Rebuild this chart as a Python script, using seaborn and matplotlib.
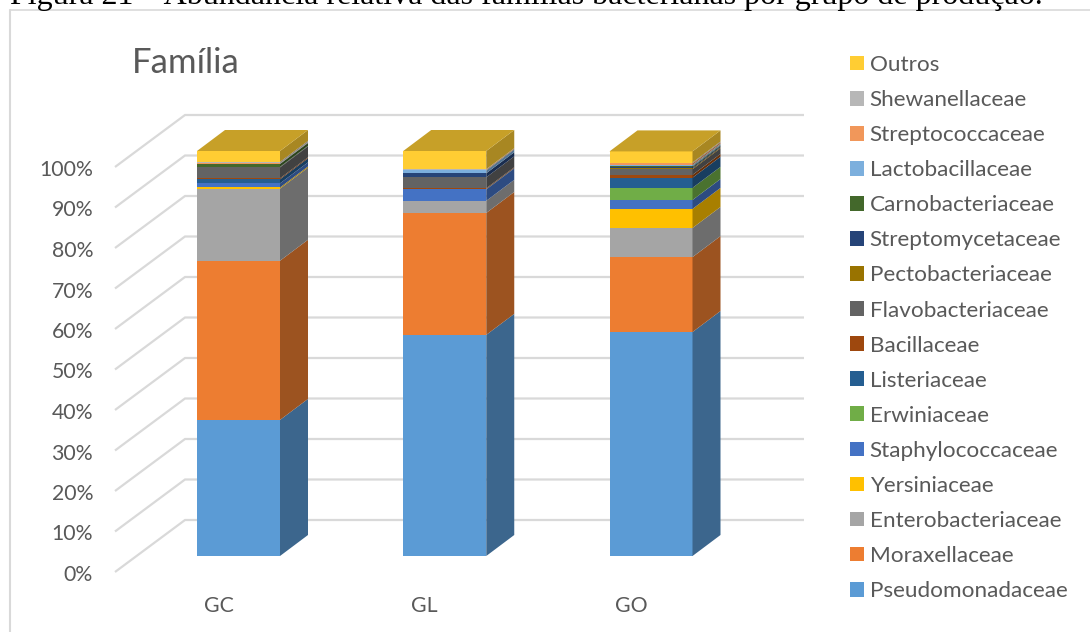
import numpy as np
import matplotlib
matplotlib.use("Agg")
import matplotlib.pyplot as plt
from matplotlib.patches import Patch, Polygon
from matplotlib.lines import Line2D
from matplotlib.transforms import ScaledTranslation
import seaborn as sns

groups = ["GC", "GL", "GO"]
families = ["Pseudomonadaceae", "Moraxellaceae", "Enterobacteriaceae", "Yersiniaceae",
            "Staphylococcaceae", "Erwiniaceae", "Listeriaceae", "Bacillaceae",
            "Flavobacteriaceae", "Pectobacteriaceae", "Streptomycetaceae",
            "Carnobacteriaceae", "Lactobacillaceae", "Streptococcaceae",
            "Shewanellaceae", "Outros"]
pseudomonadaceae = [33.6, 54.6, 55.3]
moraxellaceae = [39.3, 30.1, 18.5]
enterobacteriaceae = [17.8, 3.0, 7.2]
yersiniaceae = [0.3, 0.0, 4.7]
staphylococcaceae = [1.0, 2.8, 2.2]
erwiniaceae = [0.0, 0.0, 3.0]
listeriaceae = [1.0, 0.1, 2.5]
bacillaceae = [0.25, 0.2, 0.7]
flavobacteriaceae = [2.7, 2.7, 1.4]
pectobacteriaceae = [0.05, 0.0, 0.25]
streptomycetaceae = [0.1, 1.0, 0.3]
carnobacteriaceae = [0.7, 0.0, 0.2]
lactobacillaceae = [0.1, 0.7, 0.3]
streptococcaceae = [0.1, 0.2, 0.4]
shewanellaceae = [0.3, 0.1, 0.2]
outros = [2.7, 4.5, 2.75]

stack = [pseudomonadaceae, moraxellaceae, enterobacteriaceae, yersiniaceae,
         staphylococcaceae, erwiniaceae, listeriaceae, bacillaceae,
         flavobacteriaceae, pectobacteriaceae, streptomycetaceae,
         carnobacteriaceae, lactobacillaceae, streptococcaceae,
         shewanellaceae, outros]
palette = ["#5B9BD5", "#ED7D31", "#A5A5A5", "#FFC000", "#4472C4", "#70AD47",
           "#255E91", "#9E480E", "#636363", "#997300", "#264478", "#43682B",
           "#7CAFDD", "#F1975A", "#B7B7B7", "#FFCD33"]
tick_values = list(range(0, 101, 10))
tick_labels = [f"{v}%" for v in tick_values]

sns.set_style("white")
plt.rcParams["font.family"] = ["Lato", "DejaVu Sans"]
TEXT = "#595959"
GRID = "#D9D9D9"

W, H = 1090, 632
fig = plt.figure(figsize=(W / 100, H / 100), dpi=100)

# Axes box in pixels and the scale of the front plane of the bars
L, R, T, B = 100, 812, 100, 590
PX_X, PX_Y = 206.25, 4.05
X0, Y0 = 238.5, 556
ax = fig.add_axes([L / W, 1 - B / H, (R - L) / W, (B - T) / H])
xlim = ((L - X0) / PX_X, (R - X0) / PX_X)
ylim = ((Y0 - B) / PX_Y, (Y0 - T) / PX_Y)

# Stacked front faces
width = 83 / PX_X
cum = np.zeros(len(groups))
for vals, colour in zip(stack, palette):
    sns.barplot(x=groups, y=vals, bottom=cum, color=colour, saturation=1,
                width=width, ax=ax, zorder=3, order=groups, linewidth=0)
    cum = cum + np.array(vals)

ax.set_xlim(*xlim)
ax.set_ylim(*ylim)
ax.set_xlabel("")
ax.set_ylabel("")
sns.despine(ax=ax, left=True, bottom=True)


def shade(colour, f):
    return tuple(c * f for c in matplotlib.colors.to_rgb(colour))


# Depth of the bars: side faces and top face
dx, dy = 28 / PX_X, 21 / PX_Y
for i in range(len(groups)):
    right = i + width / 2
    left = i - width / 2
    base = 0.0
    for vals, colour in zip(stack, palette):
        top = base + vals[i]
        if vals[i] > 0:
            ax.add_patch(Polygon([(right, base), (right + dx, base + dy),
                                  (right + dx, top + dy), (right, top)],
                                 closed=True, fc=shade(colour, 0.66),
                                 ec="none", zorder=3))
            last = colour
        base = top
    ax.add_patch(Polygon([(left, base), (left + dx, base + dy),
                          (right + dx, base + dy), (right, base)],
                         closed=True, fc=shade(last, 0.78), ec="none", zorder=3))

# Floor-to-wall gridlines behind the bars
back_dx, back_dy = 70 / PX_X, 52 / PX_Y
wall_left = (185 - X0) / PX_X
wall_right = (804 - X0) / PX_X
wall_lift = (Y0 - 520) / PX_Y
for v in tick_values:
    yb = v + wall_lift
    ax.plot([wall_left - back_dx, wall_left, wall_right],
            [yb - back_dy, yb, yb], color=GRID, lw=1.6, zorder=1,
            solid_joinstyle="miter", solid_capstyle="butt")

# Axis labels sit on the front edge of the floor, not on the bars' plane
ax.set_yticks(tick_values, tick_labels)
ax.set_xticks(range(len(groups)), groups)
ax.tick_params(axis="both", length=0, labelsize=15.3, labelcolor=TEXT)
ax.tick_params(axis="y", pad=5)
ax.tick_params(axis="x", pad=4)
for lab in ax.get_yticklabels():
    lab.set_transform(lab.get_transform() +
                      ScaledTranslation(0, -17 / 100, fig.dpi_scale_trans))
for lab in ax.get_xticklabels():
    lab.set_transform(lab.get_transform() +
                      ScaledTranslation(-20 / 100, 0, fig.dpi_scale_trans))

ax.patch.set_alpha(0)

fig.text(132 / W, 1 - 63 / H, "Família", fontsize=25, color=TEXT, va="center", ha="left")

handles = [Patch(fc=c, ec="none", label=n) for n, c in zip(families, palette)][::-1]
leg = fig.legend(handles=handles, loc="upper left",
                 bbox_to_anchor=(850 / W, 1 - 55 / H), frameon=False,
                 fontsize=16.2, handlelength=0.63, handleheight=0.63,
                 handletextpad=0.25, labelspacing=0.67, borderaxespad=0, borderpad=0)
for t in leg.get_texts():
    t.set_color(TEXT)

# Outer chart frame and the figure caption cut by the page edge
fig.add_artist(Line2D([10 / W, 10 / W], [0, 1 - 9.5 / H], color=GRID, lw=1.5))
fig.add_artist(Line2D([10 / W, 1], [1 - 9.5 / H, 1 - 9.5 / H], color=GRID, lw=1.2))
fig.text(10 / W, 1 - 4 / H,
         "Figura 21 – Abundância relativa das famílias bacterianas por grupo de produção.",
         fontsize=23.0, family="Liberation Serif", color="black", va="baseline", ha="left")

fig.savefig("out.png", dpi=100)
